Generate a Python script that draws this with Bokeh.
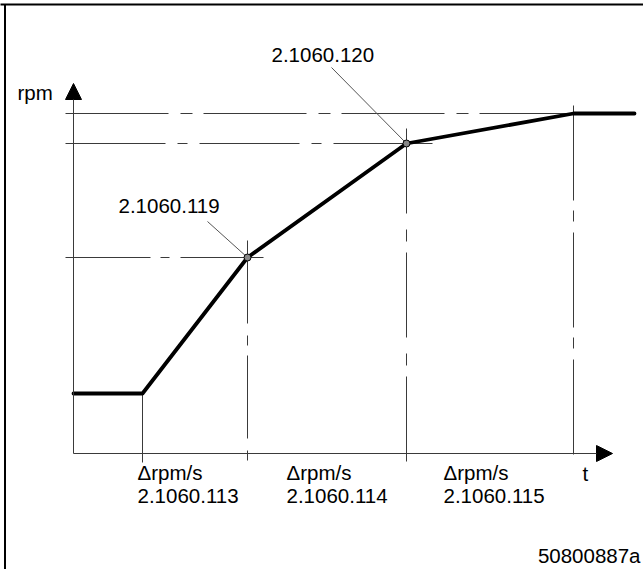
from bokeh.plotting import figure
from bokeh.models import Range1d, Arrow, NormalHead
from bokeh.embed import file_html
from bokeh.resources import INLINE
from bokeh.core.properties import value

# ---- data (t in time units, rpm in speed units; schematic) ----
t_pts = [0.0, 6.9, 17.4, 33.3, 50.0, 56.1]
rpm_pts = [6.0, 6.0, 19.6, 31.0, 34.0, 34.0]

# parameter break points
param_t = [17.4, 33.3]
param_rpm = [19.6, 31.0]
param_labels = ["2.1060.119", "2.1060.120"]
label_t = [4.5, 19.8]
label_rpm = [24.0, 39.1]
leader_t = [13.4, 25.8]
leader_rpm = [23.2, 38.6]

# ramp segment labels
ramp_t = [6.4, 21.3, 37.0]
ramp_unit = ["Δrpm/s", "Δrpm/s", "Δrpm/s"]
ramp_params = ["2.1060.113", "2.1060.114", "2.1060.115"]

# reference lines
href_rpm = [34.0, 31.0, 19.6]
href_end = [50.0, 35.9, 19.0]
href_dash = ["103 12 12 11", "100 12 10 12", "85 10 9 11"]
vref_t = [17.4, 33.3, 50.0]
vref_top = [21.3, 32.5, 34.8]
vref_dash = ["83 12 10 10", "85 16 12 11", "95 10 11 11"]

FONT = "Liberation Sans"
W, H = 643, 569
BASE_FIX = 0.8  # compensates the rendered text baseline

p = figure(width=W, height=H, output_backend="svg", toolbar_location=None,
           x_range=Range1d(-7.3, 57.0), y_range=Range1d(-11.6, 45.3),
           x_axis_type=None, y_axis_type=None, min_border=0,
           background_fill_color="white", border_fill_color="white")
p.grid.visible = False
p.outline_line_color = None

# frame (left and top edges)
p.segment([-6.85, -6.85], [44.9, 44.9], [57.0, -11.6], [44.9, 44.9],
          line_color="black", line_width=2)
p.segment([-6.85], [44.9], [-6.85], [-11.6], line_color="black", line_width=2)

thin = "#3a3a3a"

# dash-dot reference lines
for r, e, d in zip(href_rpm, href_end, href_dash):
    p.line([-0.8, e], [r, r], line_color=thin, line_width=1, line_dash=d)
for t, top, d in zip(vref_t, vref_top, vref_dash):
    p.line([t, t], [top, -0.9], line_color=thin, line_width=1, line_dash=d)
# solid vertical at start of ramp
p.line([t_pts[1], t_pts[1]], [rpm_pts[1], -0.9], line_color=thin, line_width=1)

# axes with arrow heads
p.add_layout(Arrow(end=NormalHead(size=16, fill_color="black", line_color="black"),
                   x_start=0, y_start=0, x_end=0, y_end=37.0,
                   line_color=thin, line_width=1))
p.add_layout(Arrow(end=NormalHead(size=16, fill_color="black", line_color="black"),
                   x_start=0, y_start=0, x_end=53.9, y_end=0,
                   line_color=thin, line_width=1))

# leader lines
for lt, lr, pt, pr in zip(leader_t, leader_rpm, param_t, param_rpm):
    p.line([lt, pt], [lr, pr], line_color="#555555", line_width=1)

# curve
p.line(t_pts, rpm_pts, line_color="black", line_width=3.8, line_join="round", line_cap="round")
p.scatter(param_t, param_rpm, size=7, marker="circle", fill_color="#888888",
          line_color="black", line_width=1)

# texts
common = dict(text_font=value(FONT), text_font_size="20.5px", text_color="black",
              text_baseline="alphabetic")


def up(vals):
    return [v + BASE_FIX for v in vals]


p.text(label_t, up(label_rpm), text=param_labels, text_align="left", **common)
p.text(ramp_t, up([-2.7] * 3), text=ramp_unit, text_align="left", **common)
p.text(ramp_t, up([-5.0] * 3), text=ramp_params, text_align="left", **common)
p.text([-5.6], up([35.3]), text=["rpm"], text_align="left", **common)
p.text([50.9], up([-2.8]), text=["t"], text_align="left", **common)
p.text([56.7], up([-11.0]), text=["50800887a"], text_align="right", **common)

open("out.html", "w").write(file_html(p, INLINE))
